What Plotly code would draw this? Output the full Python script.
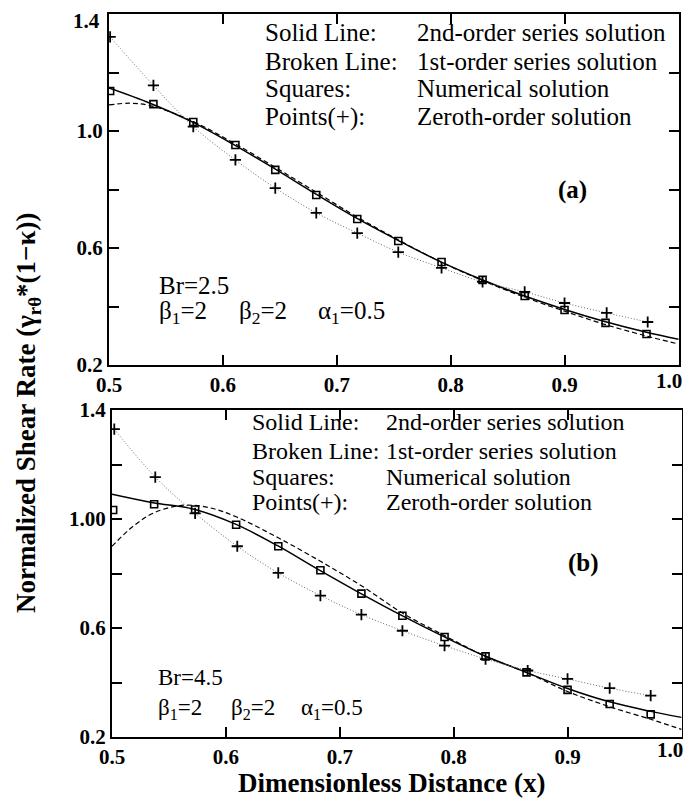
import plotly.graph_objects as go

# ---------------- Panel (a) data: Br = 2.5 ----------------
a_num_x = [0.501, 0.539, 0.574, 0.611, 0.646, 0.682, 0.718, 0.754, 0.792, 0.828, 0.865, 0.900, 0.936, 0.972]
a_num_y = [1.137, 1.092, 1.031, 0.952, 0.867, 0.781, 0.699, 0.624, 0.552, 0.491, 0.436, 0.388, 0.344, 0.306]
a_zero_x = [0.501, 0.539, 0.574, 0.611, 0.646, 0.682, 0.718, 0.754, 0.792, 0.828, 0.865, 0.900, 0.937, 0.973]
a_zero_y = [1.322, 1.156, 1.015, 0.901, 0.805, 0.720, 0.651, 0.586, 0.532, 0.484, 0.450, 0.412, 0.378, 0.347]
a_second_x = [0.5, 0.536, 0.572, 0.608, 0.645, 0.681, 0.717, 0.753, 0.79, 0.826, 0.862, 0.9, 0.936, 0.972, 1.0]
a_second_y = [1.147, 1.095, 1.033, 0.957, 0.872, 0.786, 0.703, 0.628, 0.555, 0.494, 0.440, 0.390, 0.348, 0.312, 0.288]
a_first_x = [0.5, 0.518, 0.536, 0.572, 0.608, 0.645, 0.681, 0.717, 0.753, 0.79, 0.826, 0.862, 0.9, 0.936, 0.972, 1.0]
a_first_y = [1.089, 1.095, 1.087, 1.036, 0.962, 0.878, 0.793, 0.708, 0.630, 0.555, 0.492, 0.436, 0.384, 0.338, 0.299, 0.272]

# ---------------- Panel (b) data: Br = 4.5 ----------------
b_num_x = [0.501, 0.537, 0.573, 0.609, 0.646, 0.683, 0.719, 0.755, 0.792, 0.828, 0.864, 0.900, 0.937, 0.973]
b_num_y = [1.033, 1.054, 1.035, 0.979, 0.900, 0.812, 0.726, 0.645, 0.567, 0.496, 0.437, 0.373, 0.321, 0.283]
b_zero_x = [0.502, 0.538, 0.573, 0.610, 0.646, 0.683, 0.719, 0.755, 0.792, 0.828, 0.865, 0.900, 0.937, 0.973]
b_zero_y = [1.330, 1.154, 1.021, 0.900, 0.802, 0.719, 0.649, 0.590, 0.535, 0.486, 0.444, 0.413, 0.379, 0.352]
b_second_x = [0.5, 0.536, 0.572, 0.608, 0.645, 0.681, 0.717, 0.753, 0.79, 0.826, 0.862, 0.9, 0.936, 0.972, 1.0]
b_second_y = [1.091, 1.060, 1.036, 0.982, 0.903, 0.815, 0.730, 0.649, 0.571, 0.500, 0.440, 0.378, 0.330, 0.295, 0.272]
b_first_x = [0.5, 0.519, 0.537, 0.561, 0.585, 0.609, 0.646, 0.683, 0.719, 0.755, 0.792, 0.828, 0.864, 0.9, 0.937, 0.973, 1.0]
b_first_y = [0.900, 0.975, 1.023, 1.050, 1.042, 1.008, 0.931, 0.845, 0.755, 0.655, 0.572, 0.496, 0.437, 0.367, 0.311, 0.265, 0.228]

x_ticks = [0.5, 0.6, 0.7, 0.8, 0.9, 1.0]
x_ticktext = ["0.5", "0.6", "0.7", "0.8", "0.9", ""]   # "1.0" is placed at the edge below
x_edge_label = "1.0"
y_ticks = [0.2, 0.6, 1.0, 1.4]
y_minor = [0.4, 0.8, 1.2]
a_y_ticktext = ["0.2", "0.6", "1.0", ""]                 # "1.4" is placed at the edge below
a_y_edge_label = "1.4"
b_y_ticktext = ["0.2", "0.6", "1.00", "1.4"]

legend_keys = ["Solid Line:", "Broken Line:", "Squares:", "Points(+):"]
legend_vals = ["2nd-order series solution", "1st-order series solution",
               "Numerical solution", "Zeroth-order solution"]

FONT = "Liberation Serif"
W, H = 683, 792   # page body has an 8px margin

fig = go.Figure()

def add_panel(xa, ya, nx, ny, zx, zy, sx, sy, fx, fy):
    fig.add_trace(go.Scatter(x=fx, y=fy, mode="lines", line=dict(color="black", width=1.2, dash="5px,3px", shape="spline"), xaxis=xa, yaxis=ya))
    fig.add_trace(go.Scatter(x=sx, y=sy, mode="lines", line=dict(color="black", width=1.5, shape="spline"), xaxis=xa, yaxis=ya))
    fig.add_trace(go.Scatter(x=zx, y=zy, mode="lines+markers",
                             line=dict(color="#666666", width=1, dash="1px,2px", shape="spline"),
                             marker=dict(symbol="cross-thin", size=8, color="black", line=dict(color="black", width=1.8)),
                             xaxis=xa, yaxis=ya))
    fig.add_trace(go.Scatter(x=nx, y=ny, mode="markers",
                             marker=dict(symbol="square-open", size=7, color="black", line=dict(color="black", width=1.6)),
                             xaxis=xa, yaxis=ya))

add_panel("x", "y", a_num_x, a_num_y, a_zero_x, a_zero_y, a_second_x, a_second_y, a_first_x, a_first_y)
add_panel("x2", "y2", b_num_x, b_num_y, b_zero_x, b_zero_y, b_second_x, b_second_y, b_first_x, b_first_y)

TICKFONT = dict(family=FONT, size=21, color="black", weight="bold")
axis_common = dict(showgrid=False, zeroline=False, showline=True, linecolor="black", linewidth=2,
                   mirror="allticks", ticks="inside", ticklen=10, tickwidth=1.5, tickcolor="black",
                   automargin=False, ticklabeloverflow="allow", tickfont=TICKFONT)
minor_y = dict(tickvals=y_minor, ticks="inside", ticklen=10, tickwidth=1.5, tickcolor="black", showgrid=False)

fig.update_layout(
    width=W, height=H, margin=dict(l=0, r=0, t=0, b=0, autoexpand=False),
    paper_bgcolor="white", plot_bgcolor="white", showlegend=False,
    xaxis=dict(domain=[101/W, 671/W], range=[0.5, 1.0005], tickvals=x_ticks, ticktext=x_ticktext, anchor="y", **axis_common),
    yaxis=dict(domain=[1-357/H, 1-6/H], range=[0.2, 1.4], tickvals=y_ticks, ticktext=a_y_ticktext, anchor="x", minor=minor_y, **axis_common),
    xaxis2=dict(domain=[104/W, 674/W], range=[0.5, 1.0005], tickvals=x_ticks, ticktext=x_ticktext, anchor="y2", **axis_common),
    yaxis2=dict(domain=[1-729/H, 1-402/H], range=[0.2, 1.4], tickvals=y_ticks, ticktext=b_y_ticktext, anchor="x2", minor=minor_y, **axis_common),
)

ann = []
def txt(x, y, s, xref, yref, size, bold=False, xanchor="left"):
    ann.append(dict(x=x, y=y, xref=xref, yref=yref, text=s, showarrow=False, xanchor=xanchor, yanchor="middle",
                    font=dict(family=FONT, size=size, color="black", weight="bold" if bold else "normal")))

# Edge tick labels, nudged inward as in the original
ann.append(dict(x=x_ticks[-1], y=y_ticks[0], xref="x", yref="y", text=x_edge_label, showarrow=False,
                xanchor="right", yanchor="middle", xshift=6, yshift=-16, font=TICKFONT))
ann.append(dict(x=x_ticks[-1], y=y_ticks[0], xref="x2", yref="y2", text=x_edge_label, showarrow=False,
                xanchor="right", yanchor="middle", xshift=4, yshift=-13, font=TICKFONT))
ann.append(dict(x=x_ticks[0], y=y_ticks[-1], xref="x", yref="y", text=a_y_edge_label, showarrow=False,
                xanchor="right", yanchor="middle", xshift=-7, yshift=-7, font=TICKFONT))

# Panel (a) text
a_rows = [1.338, 1.236, 1.147, 1.048]
for k, v, yy in zip(legend_keys, legend_vals, a_rows):
    txt(0.635, yy, k, "x", "y", 25)
    txt(0.769, yy, v, "x", "y", 25)
txt(0.907, 0.798, "(a)", "x", "y", 25, bold=True, xanchor="center")
txt(0.542, 0.473, "Br=2.5", "x", "y", 25)
txt(0.542, 0.380, "β<sub>1</sub>=2", "x", "y", 25)
txt(0.612, 0.380, "β<sub>2</sub>=2", "x", "y", 25)
txt(0.682, 0.380, "α<sub>1</sub>=0.5", "x", "y", 25)

# Panel (b) text
b_rows = [1.356, 1.249, 1.153, 1.061]
for k, v, yy in zip(legend_keys, legend_vals, b_rows):
    txt(0.621, yy, k, "x2", "y2", 24)
    txt(0.739, yy, v, "x2", "y2", 24)
txt(0.914, 0.84, "(b)", "x2", "y2", 25, bold=True, xanchor="center")
txt(0.539, 0.417, "Br=4.5", "x2", "y2", 23)
txt(0.539, 0.302, "β<sub>1</sub>=2", "x2", "y2", 23)
txt(0.603, 0.302, "β<sub>2</sub>=2", "x2", "y2", 23)
txt(0.664, 0.302, "α<sub>1</sub>=0.5", "x2", "y2", 23)

# Axis titles
ann.append(dict(x=383/W, y=1-775/H, xref="paper", yref="paper", showarrow=False,
                text="Dimensionless Distance (x)", xanchor="center", yanchor="middle",
                font=dict(family=FONT, size=27, color="black", weight="bold")))
ann.append(dict(x=20/W, y=1-405/H, xref="paper", yref="paper", showarrow=False, textangle=-90,
                text="Normalized Shear Rate (γ<sub>rθ</sub>*(1−κ))", xanchor="center", yanchor="middle",
                font=dict(family=FONT, size=27, color="black", weight="bold")))

fig.update_layout(annotations=ann)
fig.write_html("out.html")
